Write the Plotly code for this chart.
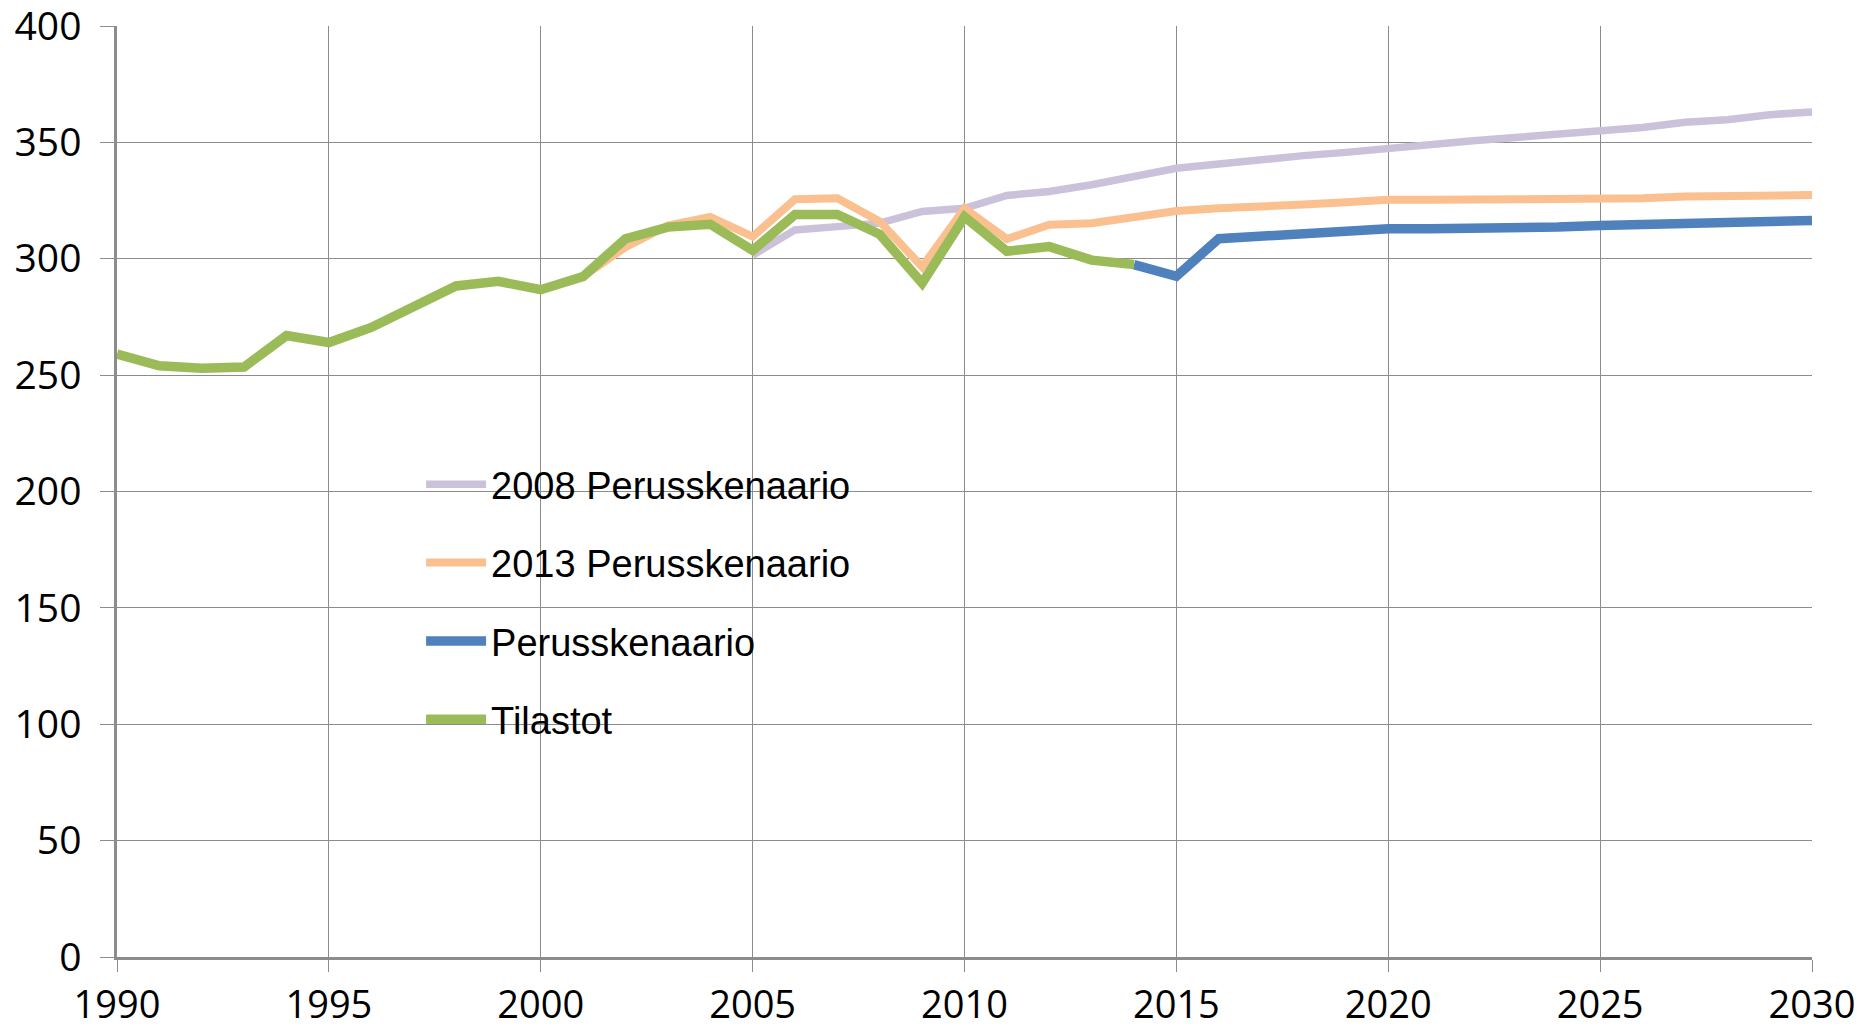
import plotly.graph_objects as go

# ---- data ----
years_tilastot = list(range(1990, 2015))
tilastot = [259, 254, 253, 253.5, 267, 264, 270.5, 279, 288.3, 290.3, 286.7, 292.4,
            308.6, 313.6, 314.8, 303.6, 319, 319, 310.5, 289.5, 318, 303.2, 305.2, 299.4, 297.5]

years_2013 = list(range(2001, 2031))
skenaario_2013 = [292.4, 305, 314.3, 318, 309.5, 325.6, 326, 316, 296.5, 321.7, 308.5, 314.6,
                  315.3, 318.2, 320.5, 321.7, 322.1, 323.3, 324.3, 325.3, 325.3, 325.3, 325.3,
                  325.3, 325.3, 326, 326.7, 326.7, 326.9, 327.4]

years_2008 = list(range(2005, 2031))
skenaario_2008 = [301.5, 312.4, 313.8, 315.3, 320.3, 321.7, 327.2, 328.9, 331.8, 335.3, 338.9,
                  340.7, 342.9, 344.3, 345.7, 347.6, 349.6, 350.7, 352.1, 353.6, 354.7, 356.4,
                  358.6, 359.7, 361.9, 363.1]

years_perus = list(range(2014, 2031))
perusskenaario = [297.5, 292.5, 308.6, 309.6, 311.4, 312.1, 312.9, 312.9, 312.9, 312.9, 313.6,
                  314.3, 314.7, 315, 315.7, 315.7, 316.4]

x_ticks = [1990, 1995, 2000, 2005, 2010, 2015, 2020, 2025, 2030]
y_ticks = [0, 50, 100, 150, 200, 250, 300, 350, 400]

# ---- figure ----
fig = go.Figure()
series = [
    ("2008 Perusskenaario", years_2008, skenaario_2008, "#CCC1DA", 7.5),
    ("2013 Perusskenaario", years_2013, skenaario_2013, "#FAC090", 8),
    ("Perusskenaario", years_perus, perusskenaario, "#4F81BD", 9.5),
    ("Tilastot", years_tilastot, tilastot, "#9BBB59", 9.5),
]
for name, xs, ys, col, w in series:
    fig.add_trace(go.Scatter(x=xs, y=ys, mode="lines", name=name, legendgroup=name,
                             line=dict(color=col, width=w)))

grid = "#8C8C8C"
fig.update_layout(
    width=1858, height=1025,
    paper_bgcolor="white", plot_bgcolor="white",
    margin=dict(l=109, r=54, t=18, b=76),
    font=dict(family="Open Sans, sans-serif", size=39, color="black"),
    showlegend=True,
    legend=dict(
        x=0.1794, y=0.5414, xanchor="left", yanchor="top",
        bgcolor="rgba(0,0,0,0)", itemwidth=60,
        font=dict(family="Liberation Sans, Arial, sans-serif", size=38, color="black"),
        traceorder="grouped", tracegroupgap=26,
    ),
    shapes=[dict(type="rect", xref="paper", yref="paper", x0=0.1434, x1=0.4649,
                 y0=0.2127, y1=0.5338, fillcolor="white", line=dict(width=0), layer="between")],
)
fig.update_xaxes(range=[1990, 2030], tickvals=x_ticks, showgrid=True, gridcolor=grid, gridwidth=1.3,
                 showline=True, linecolor=grid, linewidth=2.5, ticks="outside", ticklen=12,
                 tickcolor=grid, tickwidth=1.3, zeroline=False, ticklabelstandoff=1,
                 tickfont=dict(size=38),
                 automargin=False, ticklabeloverflow="allow")
fig.update_yaxes(range=[0, 400], tickvals=y_ticks, showgrid=True, gridcolor=grid, gridwidth=1.3,
                 showline=True, linecolor=grid, linewidth=2.5, ticks="outside", ticklen=14,
                 tickcolor=grid, tickwidth=1.3, zeroline=False, ticklabelstandoff=11,
                 automargin=False, ticklabeloverflow="allow")

fig.write_html("out.html")
